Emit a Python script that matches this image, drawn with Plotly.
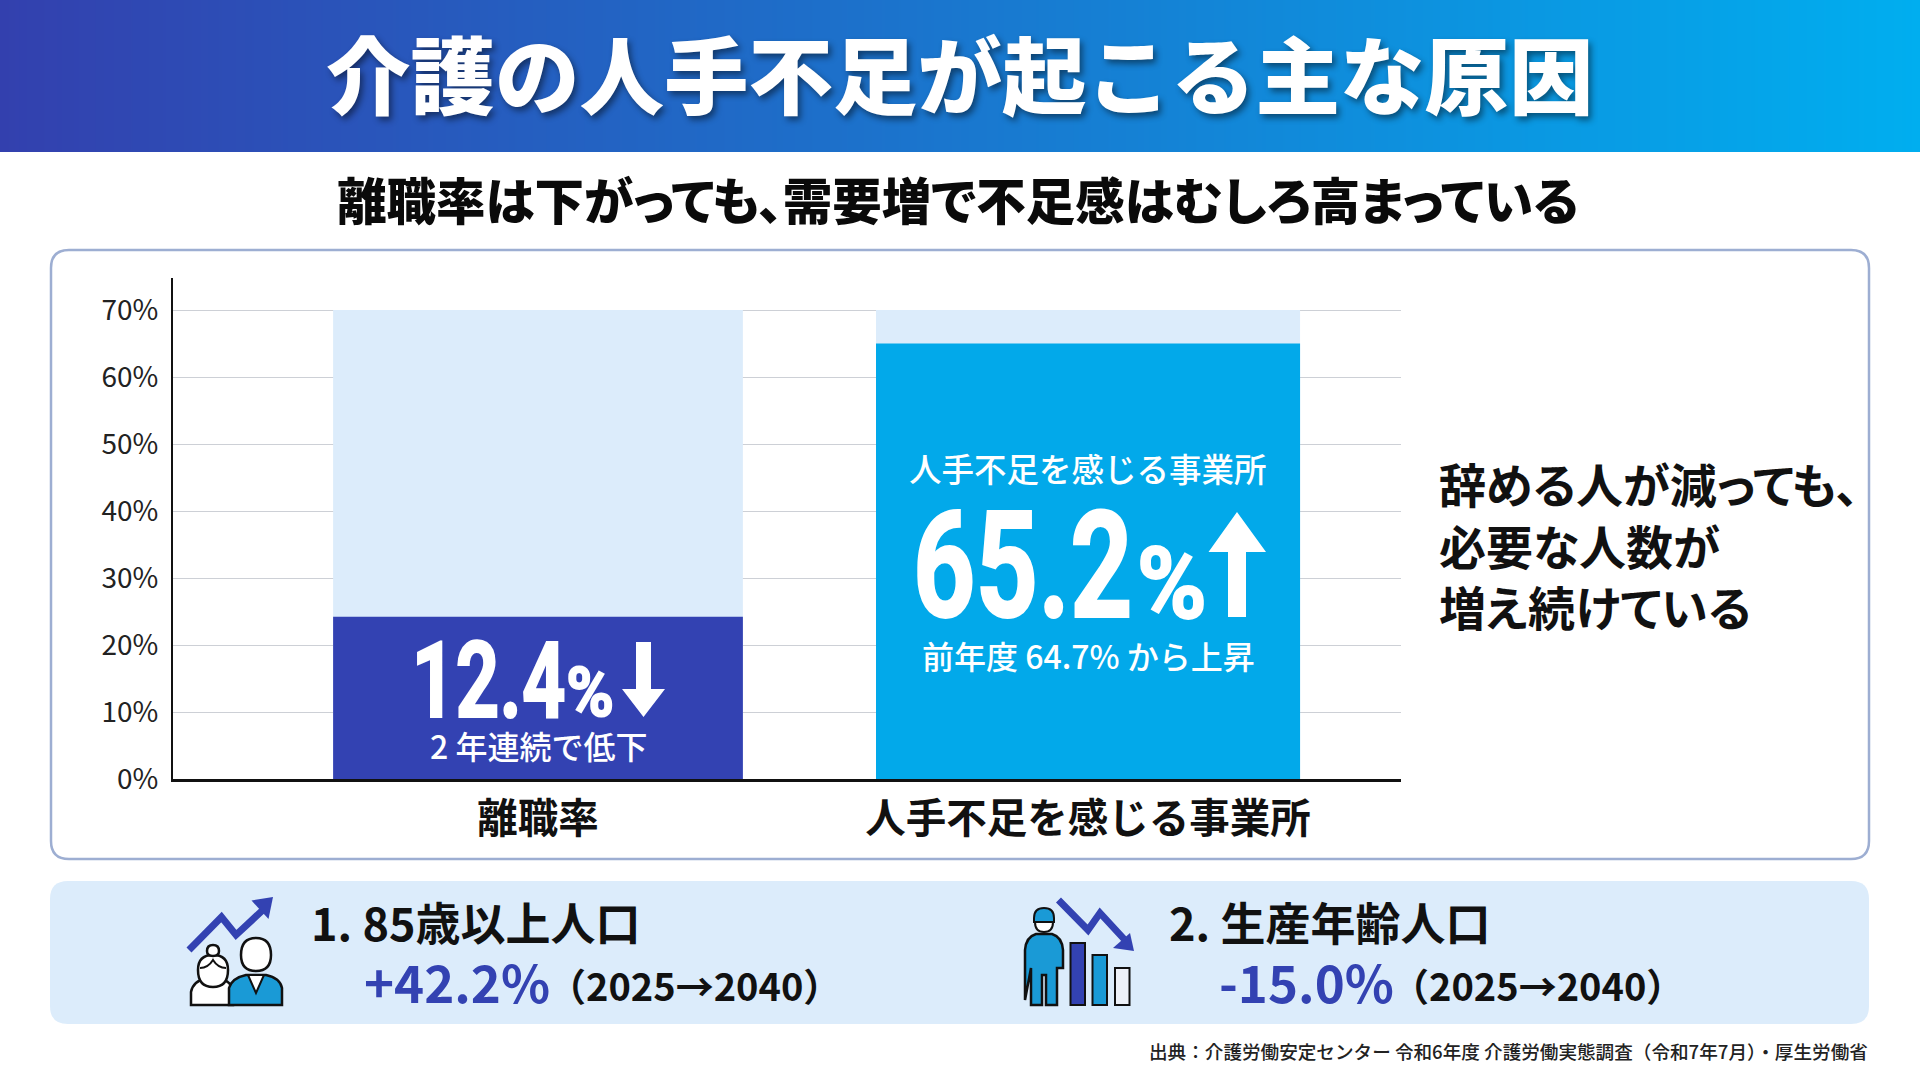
import plotly.graph_objects as go

JP = "Noto Sans CJK JP"
NUM = "Roboto"

# chart data
categories = ["離職率", "人手不足を感じる事業所"]
bar_max = [70, 70]
bar_values = [24.2, 65.0]   # heights as drawn in the picture
bar_colors = ["#3342B2", "#02A9EA"]
y_ticks = [0, 10, 20, 30, 40, 50, 60, 70]
y_labels = ["0%", "10%", "20%", "30%", "40%", "50%", "60%", "70%"]

NAVY = "#3342B2"
SKY = "#1A9AD6"
PALE = "#DCECFB"


def rounded(x0, y0, x1, y1, r):
    return (f"M{x0+r},{y0} L{x1-r},{y0} Q{x1},{y0} {x1},{y0+r} L{x1},{y1-r} Q{x1},{y1} {x1-r},{y1} "
            f"L{x0+r},{y1} Q{x0},{y1} {x0},{y1-r} L{x0},{y0+r} Q{x0},{y0} {x0+r},{y0} Z")


def text(x, y, s, size, color="#111111", weight=400, anchor="center", family=JP, shadow=None):
    font = dict(family=family, size=size, color=color, weight=weight)
    if shadow:
        font["shadow"] = shadow
    return dict(x=x, y=y, xref="x", yref="y", text=s, showarrow=False, xanchor=anchor, yanchor="middle", align=anchor, font=font)


def path(d, fill="rgba(0,0,0,0)", line="rgba(0,0,0,0)", width=0, layer="above"):
    return dict(type="path", xref="x", yref="y", path=d, fillcolor=fill, line=dict(color=line, width=width), layer=layer)


fig = go.Figure()

# header gradient, on the full page pixel axes
fig.add_trace(go.Heatmap(x=[0, 1920], y=[38, 114], z=[[0, 1], [0, 1]], zsmooth="best", showscale=False,
                         colorscale=[[0, "#3340AE"], [1, "#00AEEF"]], hoverinfo="skip", xaxis="x", yaxis="y"))

# bars
fig.add_trace(go.Bar(x=categories, y=bar_max, width=[0.745, 0.771], marker=dict(color=PALE, line=dict(width=0)),
                     hoverinfo="skip", xaxis="x2", yaxis="y2"))
fig.add_trace(go.Bar(x=categories, y=bar_values, width=[0.745, 0.771], marker=dict(color=bar_colors, line=dict(width=0)),
                     hoverinfo="skip", xaxis="x2", yaxis="y2"))

shapes = [
    path(rounded(51, 250, 1869, 859, 18), fill="#FFFFFF", line="#9DAED2", width=2.5, layer="below"),
    path(rounded(50, 881, 1869, 1024, 18), fill=PALE, layer="below"),
    # down arrow, up arrow
    path("M636,642 L651,642 L651,689 L665,689 L643.5,717 L622,689 L636,689 Z", fill="#FFFFFF"),
    path("M1237,512 L1266,552 L1246,552 L1246,617 L1228,617 L1228,552 L1208.5,552 Z", fill="#FFFFFF"),
    # icon 1: rising arrow
    path("M189,950 L221.5,917 L236,935 L265,908", line=NAVY, width=7),
    path("M273,897 L251.5,900.5 L268.5,919 Z", fill=NAVY),
    # icon 1: woman
    path("M191,1005 L191,992 Q193,981 207,978 L219,978 Q232,981 233,992 L233,1005 Z", fill="#FFFFFF", line="#111111", width=2.5),
    path("M198,970 Q198,955 213,955 Q228,955 228,970 Q228,987 213,987 Q198,987 198,970 Z", fill="#FFFFFF", line="#111111", width=2.5),
    path("M207,951 Q207,945 213,945 Q219,945 219,951 Q219,956 213,956 Q207,956 207,951 Z", fill="#FFFFFF", line="#111111", width=2.5),
    path("M200,968 Q208,968 213,960 Q218,968 226,968", line="#111111", width=2),
    # icon 1: man
    path("M229,1005 L229,988 Q232,978 246,975 L266,975 Q280,978 282,988 L282,1005 Z", fill=SKY, line="#111111", width=2.5),
    path("M248,975 L256,993 L264,975 Z", fill="#FFFFFF", line="#111111", width=2),
    path("M241,955 Q241,938 256,938 Q271,938 271,955 Q271,971 256,971 Q241,971 241,955 Z", fill="#FFFFFF", line="#111111", width=2.5),
    # icon 2: falling arrow
    path("M1058.5,900 L1088,930 L1100,913 L1124,939", line=NAVY, width=7),
    path("M1134,951 L1113,948 L1130,933 Z", fill=NAVY),
    # icon 2: worker
    path("M1025,1000 L1025,950 Q1026,937 1036,934 L1052,934 Q1062,937 1063,950 L1063,968 L1057,968 L1057,1005 L1046,1005 L1046,975 "
         "L1042,975 L1042,1005 L1031,1005 L1031,968 L1031,968 Z", fill=SKY, line="#111111", width=2.5),
    path("M1034,918 Q1034,908 1044,908 Q1054,908 1054,918 L1054,922 L1034,922 Z", fill=SKY, line="#111111", width=2),
    path("M1035,922 L1053,922 Q1053,932 1044,932 Q1035,932 1035,922 Z", fill="#FFFFFF", line="#111111", width=2),
    # icon 2: little bars
    path("M1070.5,943 L1085,943 L1085,1005 L1070.5,1005 Z", fill=NAVY, line="#111111", width=2),
    path("M1092.5,955 L1107,955 L1107,1005 L1092.5,1005 Z", fill=SKY, line="#111111", width=2),
    path("M1115,968 L1129.5,968 L1129.5,1005 L1115,1005 Z", fill="#EEF1F8", line="#111111", width=2),
]

annotations = [
    text(960, 71, "介護の人手不足が起こる主な原因", 84.5, "#FFFFFF", 900, shadow="3px 4px 6px rgba(0,0,0,0.45)"),
    text(958, 198, "離職率は下がっても、需要増で不足感はむしろ高まっている", 49.5, "#0A0A0A", 900),
    # inside bars
    text(488, 681, "12.4", 105, "#FFFFFF", 700, family=NUM),
    text(590, 693, "%", 68, "#FFFFFF", 700, family=NUM),
    text(538, 745, "2 年連続で低下", 32, "#FFFFFF", 500),
    text(1088, 467, "人手不足を感じる事業所", 32.5, "#FFFFFF", 500),
    text(1023, 566, "65.2", 148, "#FFFFFF", 700, family=NUM),
    text(1172, 583, "%", 100, "#FFFFFF", 700, family=NUM),
    text(1088, 655, "前年度 64.7% から上昇", 32, "#FFFFFF", 500),
    # right note
    text(1437, 482, "辞める人が減っても、", 47, "#111111", 700, "left"),
    text(1437, 544, "必要な人数が", 47, "#111111", 700, "left"),
    text(1437, 605, "増え続けている", 47, "#111111", 700, "left"),
    # bottom panel
    text(309, 921, "1. 85歳以上人口", 45, "#111111", 700, "left"),
    text(362, 981, "+42.2%", 51, NAVY, 700, "left"),
    text(694, 984, "（2025→2040）", 38, "#111111", 700),
    text(1167, 921, "2. 生産年齢人口", 45, "#111111", 700, "left"),
    text(1217, 981, "-15.0%", 51, NAVY, 700, "left"),
    text(1537, 984, "（2025→2040）", 38, "#111111", 700),
    text(1870, 1050, "出典：介護労働安定センター 令和6年度 介護労働実態調査（令和7年7月）・厚生労働省", 18.6, "#222222", 500, "right"),
]

fig.update_layout(
    width=1920,
    height=1072,
    margin=dict(l=0, r=0, t=0, b=0),
    paper_bgcolor="#FFFFFF",
    plot_bgcolor="rgba(0,0,0,0)",
    showlegend=False,
    barmode="overlay",
    shapes=shapes,
    annotations=annotations,
    # whole page in pixels, for the header and the panels
    xaxis=dict(domain=[0, 1], range=[0, 1920], visible=False, fixedrange=True, automargin=False),
    yaxis=dict(domain=[0, 1], range=[1072, 0], visible=False, fixedrange=True, automargin=False),
    # the chart
    xaxis2=dict(domain=[173 / 1920, 1401 / 1920], anchor="y2", range=[-0.6636, 1.569], showgrid=False, automargin=False,
                showline=True, linecolor="#111111", linewidth=2.5, ticks="", ticklabelstandoff=3,
                tickfont=dict(family=JP, size=40.5, color="#111111", weight=700), fixedrange=True),
    yaxis2=dict(domain=[1 - 779 / 1072, 1 - 278 / 1072], anchor="x2", range=[0, 74.78], tickvals=y_ticks, ticktext=y_labels,
                showgrid=True, gridcolor="#CDD0D6", gridwidth=1.2, zeroline=False, automargin=False,
                showline=True, linecolor="#111111", linewidth=2, ticks="", ticklabelstandoff=7,
                tickfont=dict(family=JP, size=28, color="#222222"), fixedrange=True),
)

# the big figures are condensed in the original, no narrow sans is installed
# subtitle and side note use proportional kana like the original
post_js = """
document.body.style.margin = '0';
setTimeout(function () {
    var squeeze = {'12.4': 0.73, '65.2': 0.74, '%': 0.95};
    document.querySelectorAll('.annotation-text').forEach(function (t) {
        var s = t.textContent, k = squeeze[s];
        if (s.indexOf('離職率は') === 0 || s.indexOf('辞める') === 0 || s.indexOf('必要な') === 0 || s.indexOf('増え') === 0) {
            t.style.fontFeatureSettings = '"palt"';
        }
        if (!k) return;
        var b = t.getBBox(), cx = b.x + b.width / 2;
        t.setAttribute('transform', 'translate(' + cx + ' 0) scale(' + k + ' 1) translate(' + (-cx) + ' 0)');
        t.style.stroke = '#FFFFFF';
        t.style.strokeWidth = '2px';
    });
}, 200);
"""

fig.write_html("out.html", post_script=post_js, config={"displayModeBar": False})
